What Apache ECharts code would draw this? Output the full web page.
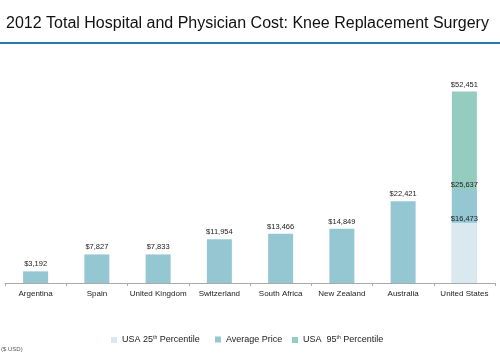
<!DOCTYPE html>
<html><head><meta charset="utf-8">
<script src="https://cdn.jsdelivr.net/npm/echarts@6/dist/echarts.min.js"></script>
<style>html,body{margin:0;padding:0;background:#fff}#c{width:500px;height:356px}</style>
</head><body><div id="c"></div>
<script>
var categories = ['Argentina','Spain','United Kingdom','Switzerland','South Africa','New Zealand','Australia','United States'];
var averagePrice = [3192, 7827, 7833, 11954, 13466, 14849, 22421, 25637];
var usa25th = [null, null, null, null, null, null, null, 16473];
var usa95th = [null, null, null, null, null, null, null, 52451];
var seriesNames = ['USA 25th Percentile', 'Average Price', 'USA  95th Percentile'];

var FONT = '"Liberation Sans", Arial, sans-serif';
var fmt = function (p) { return '$' + Number(p.value).toLocaleString('en-US'); };
var lblBase = { show: true, position: 'top', distance: 3, fontSize: 7.5, color: '#222', fontFamily: FONT, formatter: fmt };

var avgData = averagePrice.map(function (v, i) {
  if (i === categories.length - 1) return { value: v, label: { distance: 0 } };
  return v;
});

var legendText = function (name) {
  return name.replace(/(\d+)th/, '$1{sup|th}');
};
var legendStyle = { fontSize: 9, color: '#222', fontFamily: FONT,
  rich: { sup: { fontSize: 5, verticalAlign: 'top', padding: [0, 0, 5, 0], color: '#222', fontFamily: FONT } } };
var legendBase = { top: 335, padding: 0, itemWidth: 6, itemHeight: 6, icon: 'rect', itemGap: 0, formatter: legendText, textStyle: legendStyle };

var chart = echarts.init(document.getElementById('c'));
chart.setOption({
  animation: false,
  title: { text: '2012 Total Hospital and Physician Cost: Knee Replacement Surgery', left: 1, top: 11,
    textStyle: { fontSize: 16, fontWeight: 'normal', color: '#111', fontFamily: FONT } },
  graphic: [
    { type: 'rect', shape: { x: 0, y: 42, width: 500, height: 2 }, style: { fill: '#2a79b0' } },
    { type: 'text', left: 1, top: 346, style: { text: '($ USD)', fontSize: 6, fill: '#555', fontFamily: FONT } }
  ],
  legend: [
    Object.assign({ data: [seriesNames[0]], left: 111 }, legendBase),
    Object.assign({ data: [seriesNames[1]], left: 215 }, legendBase),
    Object.assign({ data: [seriesNames[2]], left: 292 }, legendBase)
  ],
  grid: { left: 5, right: 5, top: 64, bottom: 73, containLabel: false },
  xAxis: {
    type: 'category', data: categories,
    axisLine: { lineStyle: { color: '#aaa' } },
    axisTick: { show: true, alignWithLabel: false, length: 3, lineStyle: { color: '#aaa' } },
    axisLabel: { fontSize: 8, color: '#222', margin: 7, interval: 0, fontFamily: FONT }
  },
  yAxis: { type: 'value', min: 0, max: 60000, show: false, splitLine: { show: false } },
  series: [
    { name: seriesNames[2], type: 'bar', data: usa95th, barWidth: 25, barGap: '-100%',
      itemStyle: { color: '#94cdbf' }, label: lblBase },
    { name: seriesNames[1], type: 'bar', data: avgData, barWidth: 25, barGap: '-100%',
      itemStyle: { color: '#95c7d3' }, label: lblBase },
    { name: seriesNames[0], type: 'bar', data: usa25th, barWidth: 25, barGap: '-100%',
      itemStyle: { color: '#dae9ef' }, label: Object.assign({}, lblBase, { distance: 0 }) }
  ]
});
</script></body></html>
